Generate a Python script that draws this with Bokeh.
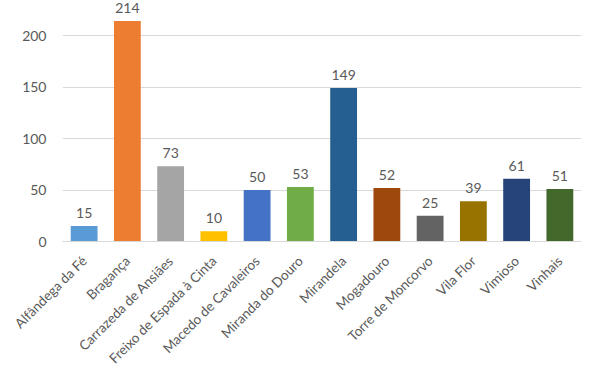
import math
from bokeh.plotting import figure
from bokeh.models import ColumnDataSource, Range1d, FixedTicker
from bokeh.core.properties import value
from bokeh.embed import file_html
from bokeh.resources import INLINE

categories = ["Alfândega da Fé", "Bragança", "Carrazeda de Ansiães", "Freixo de Espada à Cinta",
              "Macedo de Cavaleiros", "Miranda do Douro", "Mirandela", "Mogadouro",
              "Torre de Moncorvo", "Vila Flor", "Vimioso", "Vinhais"]
values = [15, 214, 73, 10, 50, 53, 149, 52, 25, 39, 61, 51]
colors = ["#5B9BD5", "#ED7D31", "#A5A5A5", "#FFC000", "#4472C4", "#70AD47",
          "#255E91", "#9E480E", "#636363", "#997300", "#264478", "#43682B"]
y_ticks = [0, 50, 100, 150, 200]

src = ColumnDataSource(dict(cat=categories, val=values, col=colors,
                            lab=[str(v) for v in values]))

FONT = "Lato"
GRAY = "#595959"

p = figure(x_range=categories, y_range=Range1d(0, 234), width=600, height=375,
           output_backend="svg", toolbar_location=None,
           min_border_left=62, min_border_right=19, min_border_top=0, min_border_bottom=133)
p.outline_line_color = None

p.vbar(x="cat", top="val", width=0.62, source=src, fill_color="col", line_color=None)
p.text(x="cat", y="val", text="lab", source=src, text_align="center", text_baseline="bottom",
       y_offset=-8, text_font=value(FONT), text_font_size="14px", text_color=GRAY)

p.xgrid.grid_line_color = None
p.ygrid.grid_line_color = "#D9D9D9"
p.ygrid.grid_line_width = 1
p.yaxis.ticker = FixedTicker(ticks=y_ticks)
p.yaxis.axis_line_color = None
p.yaxis.major_tick_line_color = None
p.yaxis.minor_tick_line_color = None
p.yaxis.major_label_text_font = FONT
p.yaxis.major_label_text_font_size = "14px"
p.yaxis.major_label_text_color = GRAY
p.yaxis.major_label_standoff = 10

p.xaxis.axis_line_color = "#D9D9D9"
p.xaxis.major_tick_line_color = None
p.xaxis.minor_tick_line_color = None
p.xaxis.major_label_orientation = math.pi / 4
p.xaxis.major_label_text_font = FONT
p.xaxis.major_label_text_font_size = "13.5px"
p.xaxis.major_label_text_color = GRAY
p.xaxis.major_label_standoff = 11

open("out.html", "w").write(file_html(p, INLINE))
